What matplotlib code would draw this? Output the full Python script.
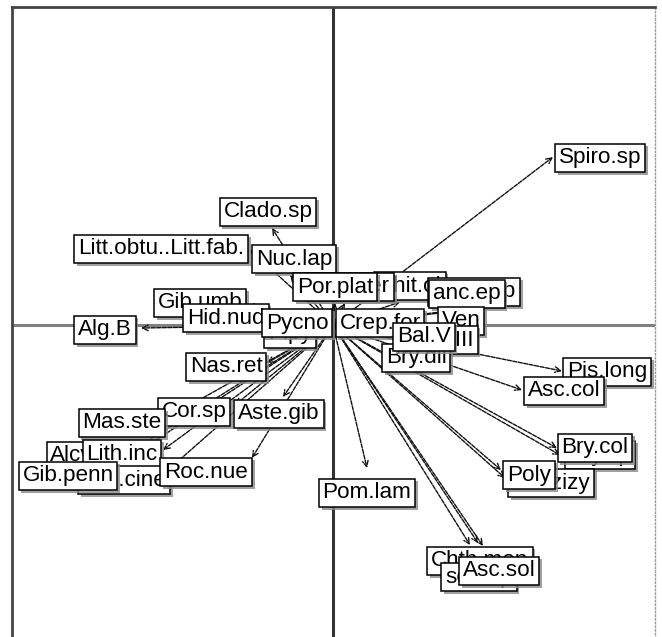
import matplotlib
matplotlib.use("Agg")
import matplotlib.pyplot as plt
import matplotlib.patheffects as pe

plt.rcParams['font.family'] = ['Liberation Sans', 'DejaVu Sans']

# species labels, arrow tips and label centres
labels = ["Spiro.sp", "Clado.sp", "Litt.obtu..Litt.fab.", "Nuc.lap", "Chit.ol", "Ocen.er",
          "Por.plat", "Ascid.sp", "anc.ep", "Gib.umb", "Hid.nud", "Alg.B", "Pipy",
          "Pycno", "Crep.for", "Ven", "Bal.III", "Bry.dil", "Bal.V",
          "Pis.long", "Asc.col", "Bry.sp", "Bry.col", "Cal.zizy", "Poly", "Pom.lam",
          "Chth.mon", "sert.sp", "Asc.sol",
          "Nas.ret", "Cor.sp", "Aste.gib", "Mas.ste", "Alcy.dig", "Lith.inc",
          "Lac.cine", "Gib.penn", "Roc.nue"]
tip_x = [2.20, -0.61, -0.83, -0.43, 0.67, 0.12, 0.02, 1.41, 1.34, -0.86, -0.71, -1.92, -0.33,
         -0.08, 0.07, 1.20, 1.12, 0.83, 0.67,
         2.29, 1.89, 2.27, 2.24, 1.72, 1.68, 0.34,
         1.45, 1.37, 1.50,
         -0.66, -0.98, -0.50, -1.66, -2.03, -1.70, -1.65, -2.17, -0.81]
tip_y = [1.68, 0.97, 0.75, 0.50, 0.23, 0.22, 0.22, 0.17, 0.15, 0.20, 0.05, -0.03, -0.05,
         -0.05, -0.01, -0.05, -0.05, -0.20, -0.05,
         -0.46, -0.65, -1.30, -1.23, -1.53, -1.45, -1.43,
         -2.18, -2.20, -2.21,
         -0.38, -0.80, -0.72, -0.93, -1.27, -1.25, -1.45, -1.41, -1.33]
lab_x = [2.67, -0.65, -1.72, -0.39, 0.77, 0.17, 0.02, 1.41, 1.34, -1.33, -1.07, -2.28, -0.43,
         -0.36, 0.47, 1.28, 1.12, 0.83, 0.91,
         2.74, 2.31, 2.67, 2.62, 2.18, 1.96, 0.34,
         1.47, 1.46, 1.66,
         -1.07, -1.39, -0.54, -2.11, -2.44, -2.11, -2.09, -2.65, -1.27]
lab_y = [1.67, 1.13, 0.76, 0.66, 0.39, 0.38, 0.38, 0.33, 0.31, 0.22, 0.07, -0.05, -0.09,
         0.02, 0.02, 0.04, -0.15, -0.33, -0.12,
         -0.47, -0.66, -1.30, -1.23, -1.58, -1.50, -1.68,
         -2.36, -2.52, -2.46,
         -0.42, -0.87, -0.89, -0.98, -1.31, -1.29, -1.55, -1.51, -1.47]

fig = plt.figure(figsize=(6.62, 6.37), dpi=100)
ax = fig.add_axes([12 / 662, -13 / 637, 643 / 662, 643 / 637])
ax.set_xlim(-3.21, 3.22)
ax.set_ylim(-3.25, 3.18)
ax.set_xticks([])
ax.set_yticks([])
for side in ["left", "top"]:
    ax.spines[side].set_color("#444444")
    ax.spines[side].set_linewidth(2)
ax.spines["right"].set_color("#999999")
ax.spines["right"].set_linewidth(1)
ax.spines["right"].set_linestyle(":")
ax.spines["bottom"].set_visible(False)

ax.axhline(0, color="#808080", lw=2.2, zorder=1)
ax.axvline(0, color="#333333", lw=2.2, zorder=1)

# arrows from the origin
for tx, ty in zip(tip_x, tip_y):
    ax.annotate("", xy=(tx, ty), xytext=(0, 0),
                arrowprops=dict(arrowstyle="->", lw=1.0, color="#111111",
                                linestyle=(0, (3, 1)), shrinkA=0, shrinkB=0,
                                mutation_scale=10),
                zorder=2)

# boxed labels
for i, (name, lx, ly) in enumerate(zip(labels, lab_x, lab_y)):
    t = ax.text(lx, ly, name, fontsize=16.2, ha="center", va="center",
                zorder=3 + i * 0.01,
                bbox=dict(boxstyle="square,pad=0.17", fc="white", ec="black", lw=1.1))
    t.get_bbox_patch().set_path_effects([
        pe.SimplePatchShadow(offset=(2, -2), shadow_rgbFace="#888888", alpha=0.8),
        pe.Normal()])

fig.savefig("out.png", dpi=100)
